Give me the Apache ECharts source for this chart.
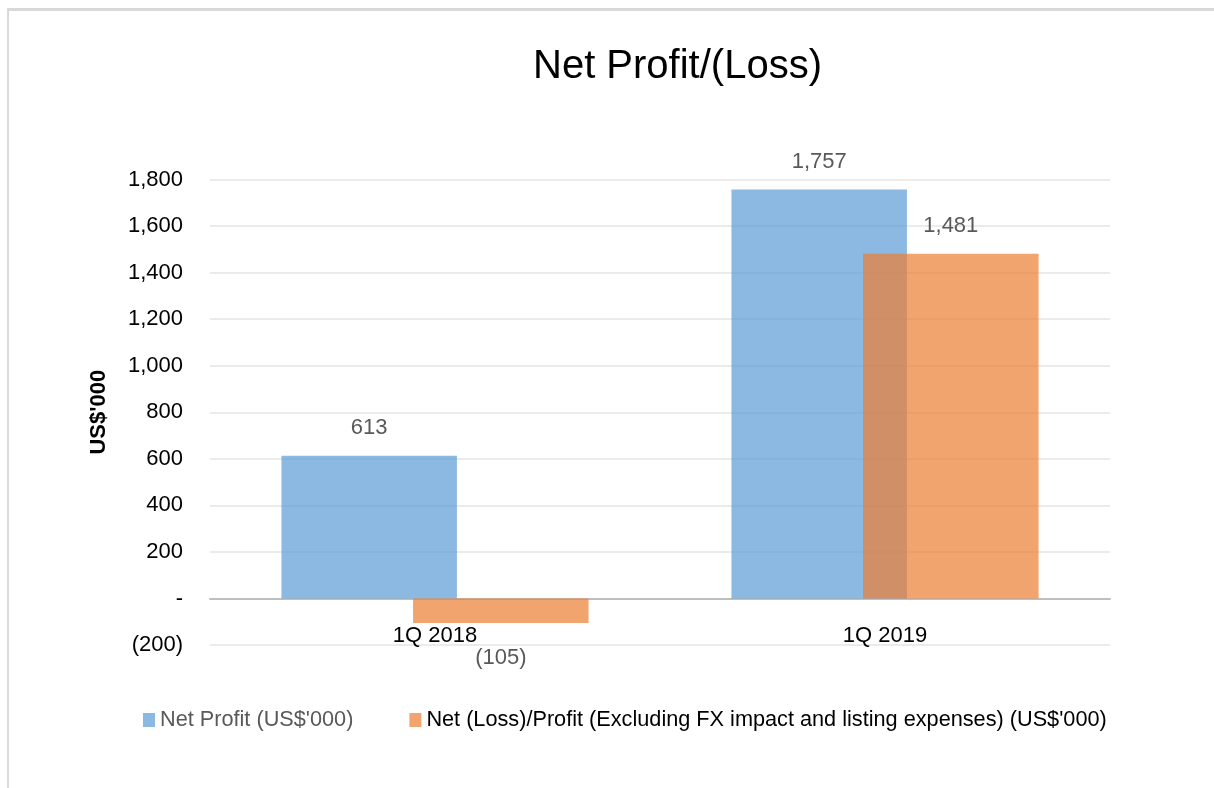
<!DOCTYPE html>
<html>
<head>
<meta charset="utf-8">
<script src="https://cdn.jsdelivr.net/npm/echarts@6/dist/echarts.min.js"></script>
<style>
  html, body { margin: 0; padding: 0; background: #fff; }
  #frame {
    position: absolute; left: 7px; top: 8px; width: 1210px; height: 790px;
    border-top: 3px solid #d9d9d9; border-left: 2px solid #d9d9d9;
  }
  #chart { position: absolute; left: 0; top: 0; width: 1214px; height: 788px; }
</style>
</head>
<body>
<div id="frame"></div>
<div id="chart"></div>
<script>
// chart data
const categories = ["1Q 2018", "1Q 2019"];
const netProfit = [613, 1757];
const netExcl = [-105, 1481];
const seriesNames = [
  "Net Profit (US$'000)",
  "Net (Loss)/Profit (Excluding FX impact and listing expenses) (US$'000)"
];
const yTicks = { min: -200, max: 1800, interval: 200 };

const font = "'Liberation Sans', Arial, sans-serif";

function fmt(v) {
  if (v === 0) return "-";
  const s = Math.abs(v).toString().replace(/\B(?=(\d{3})+(?!\d))/g, ",");
  return v < 0 ? "(" + s + ")" : s;
}

// negative bars get their label a bit further below
function toItems(arr) {
  return arr.map(function (v) {
    return {
      value: v,
      label: { distance: v < 0 ? 24 : 17 }
    };
  });
}

const chart = echarts.init(document.getElementById("chart"));

const barLabel = {
  show: true,
  position: "outside",
  color: "#595959",
  fontSize: 22,
  fontFamily: font,
  formatter: function (p) { return fmt(p.value); }
};

chart.setOption({
  backgroundColor: "transparent",
  animation: false,
  title: {
    text: "Net Profit/(Loss)",
    left: 528,
    top: 42,
    textStyle: { fontSize: 40, fontWeight: "normal", color: "#000", fontFamily: font }
  },
  grid: { left: 210, right: 104, top: 179.5, bottom: 143 },
  legend: {
    left: 138,
    top: 704,
    icon: "rect",
    itemWidth: 12,
    itemHeight: 14,
    itemGap: 56,
    textStyle: { fontSize: 21.7, fontFamily: font, color: "#000" },
    data: [
      { name: seriesNames[0], textStyle: { color: "#595959" } },
      { name: seriesNames[1] }
    ]
  },
  xAxis: {
    type: "category",
    data: categories,
    axisTick: { show: false },
    axisLine: { onZero: true, lineStyle: { color: "#bfbfbf", width: 2 } },
    axisLabel: { margin: -20, fontSize: 22, color: "#000", fontFamily: font }
  },
  yAxis: {
    type: "value",
    min: yTicks.min,
    max: yTicks.max,
    interval: yTicks.interval,
    name: "US$'000",
    nameLocation: "middle",
    nameGap: 100,
    nameTextStyle: { fontSize: 22, fontWeight: "bold", color: "#000", fontFamily: font },
    axisLine: { show: false },
    axisTick: { show: false },
    axisLabel: { margin: 27, fontSize: 22, color: "#000", fontFamily: font, formatter: fmt },
    splitLine: { lineStyle: { color: "#ebebeb", width: 2 } }
  },
  series: [
    {
      name: seriesNames[0],
      type: "bar",
      data: toItems(netProfit),
      barWidth: "39%",
      barGap: "-25%",
      itemStyle: { color: "rgba(91,155,213,0.7)" },
      label: barLabel
    },
    {
      name: seriesNames[1],
      type: "bar",
      data: toItems(netExcl),
      barWidth: "39%",
      barGap: "-25%",
      itemStyle: { color: "rgba(237,125,49,0.7)" },
      label: barLabel
    }
  ]
});
</script>
</body>
</html>
